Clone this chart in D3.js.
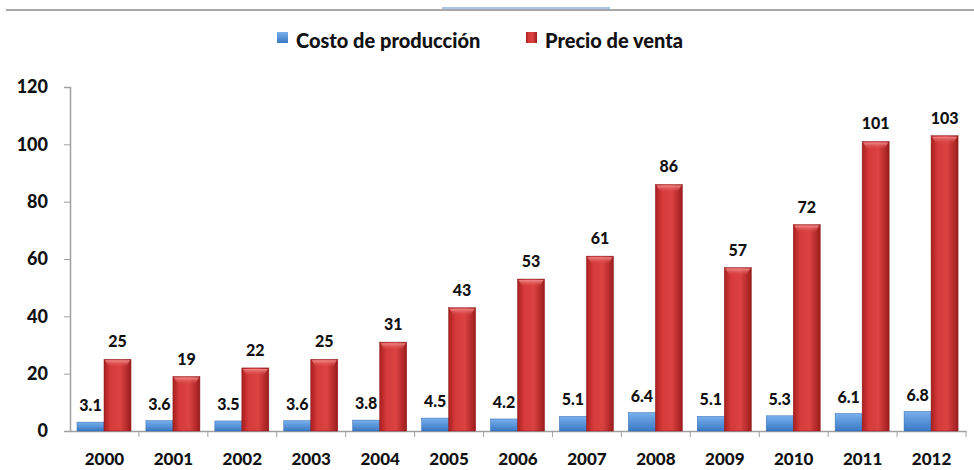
<!DOCTYPE html>
<html>
<head>
<meta charset="utf-8">
<script src="https://cdn.jsdelivr.net/npm/d3@7"></script>
<style>
  body { margin: 0; background: #fff; }
  svg text { font-family: Lato, "Open Sans", sans-serif; font-weight: 900; fill: #111; }
</style>
</head>
<body>
<svg id="chart" width="974" height="470"></svg>
<script>
// Costo de producción vs Precio de venta, 2000-2012
const years = ["2000", "2001", "2002", "2003", "2004", "2005", "2006", "2007", "2008", "2009", "2010", "2011", "2012"];
const costo = [3.1, 3.6, 3.5, 3.6, 3.8, 4.5, 4.2, 5.1, 6.4, 5.1, 5.3, 6.1, 6.8];
const precio = [25, 19, 22, 25, 31, 43, 53, 61, 86, 57, 72, 101, 103];
const seriesNames = ["Costo de producción", "Precio de venta"];
const yTicks = [0, 20, 40, 60, 80, 100, 120];

const svg = d3.select("#chart");
const plotLeft = 70, plotRight = 966, plotTop = 87, plotBottom = 431;

// gradients
const defs = svg.append("defs");
const gRed = defs.append("linearGradient").attr("id", "gRed").attr("x1", 0).attr("x2", 1).attr("y1", 0).attr("y2", 0);
gRed.append("stop").attr("offset", "0%").attr("stop-color", "#a91f1f");
gRed.append("stop").attr("offset", "25%").attr("stop-color", "#d63a3a");
gRed.append("stop").attr("offset", "60%").attr("stop-color", "#dc4242");
gRed.append("stop").attr("offset", "100%").attr("stop-color", "#9c1c1c");
const gBlue = defs.append("linearGradient").attr("id", "gBlue").attr("x1", 0).attr("x2", 0).attr("y1", 0).attr("y2", 1);
gBlue.append("stop").attr("offset", "0%").attr("stop-color", "#79b0ee");
gBlue.append("stop").attr("offset", "100%").attr("stop-color", "#3a78c4");
const gTop = defs.append("linearGradient").attr("id", "gTop").attr("x1", 0).attr("x2", 0).attr("y1", 0).attr("y2", 1);
gTop.append("stop").attr("offset", "0%").attr("stop-color", "#f08a8a");
gTop.append("stop").attr("offset", "100%").attr("stop-color", "#dc4242").attr("stop-opacity", 0);

// top rule
svg.append("rect").attr("x", 6).attr("y", 9).attr("width", 968).attr("height", 2).attr("fill", "#a8a8a8");
svg.append("rect").attr("x", 442).attr("y", 7).attr("width", 168).attr("height", 2).attr("fill", "#a9c6e4");

const x0 = d3.scaleBand().domain(years).range([plotLeft, plotRight]);
const x1 = d3.scaleBand().domain(seriesNames).range([7, 61]);
const y = d3.scaleLinear().domain([0, 120]).range([plotBottom, plotTop]);

// y axis
const yAxis = svg.append("g").attr("transform", `translate(${plotLeft},0)`)
  .call(d3.axisLeft(y).tickValues(yTicks).tickSize(6).tickPadding(16));
yAxis.select(".domain").attr("stroke", "#a0a0a0").attr("stroke-width", 1.5);
yAxis.selectAll(".tick line").attr("stroke", "#a0a0a0");
yAxis.selectAll("text").style("font-size", "18px").attr("fill", "#111");

// x axis
const xAxis = svg.append("g").attr("transform", `translate(0,${plotBottom})`)
  .call(d3.axisBottom(x0).tickSize(0).tickPadding(22));
xAxis.select(".domain").attr("stroke", "#a0a0a0").attr("stroke-width", 1.5);
xAxis.selectAll("text").style("font-size", "17px").attr("fill", "#111");
// separators between categories
svg.append("g").selectAll("line")
  .data(years)
  .join("line")
  .attr("x1", d => x0(d) + x0.bandwidth())
  .attr("x2", d => x0(d) + x0.bandwidth())
  .attr("y1", plotBottom).attr("y2", plotBottom + 6)
  .attr("stroke", "#a0a0a0");

const bw = x1.bandwidth();

// blue bars
svg.append("g").selectAll("rect")
  .data(costo)
  .join("rect")
  .attr("x", (d, i) => x0(years[i]) + x1(seriesNames[0]))
  .attr("y", d => y(d))
  .attr("width", bw)
  .attr("height", d => plotBottom - y(d))
  .attr("fill", "url(#gBlue)")
  .attr("stroke", "#2f67ad").attr("stroke-width", 0.5);

// red bars
const redG = svg.append("g");
redG.selectAll("rect.bar")
  .data(precio)
  .join("rect")
  .attr("class", "bar")
  .attr("x", (d, i) => x0(years[i]) + x1(seriesNames[1]))
  .attr("y", d => y(d))
  .attr("width", bw)
  .attr("height", d => plotBottom - y(d))
  .attr("fill", "url(#gRed)")
  .attr("stroke", "#8e1b1b").attr("stroke-width", 0.5);
// bevel highlight on top
redG.selectAll("path.bevel")
  .data(precio)
  .join("path")
  .attr("class", "bevel")
  .attr("d", (d, i) => {
    const bx = x0(years[i]) + x1(seriesNames[1]), by = y(d);
    return `M${bx + 1},${by + 1} L${bx + bw - 1},${by + 1} L${bx + bw - 5},${by + 8} L${bx + 5},${by + 8} Z`;
  })
  .attr("fill", "url(#gTop)");

// value labels
svg.append("g").selectAll("text")
  .data(costo)
  .join("text")
  .attr("x", (d, i) => x0(years[i]) + x1(seriesNames[0]) + bw / 2)
  .attr("y", d => y(d) - 11)
  .attr("text-anchor", "middle")
  .style("font-size", "16px")
  .text(d => d.toFixed(1));
svg.append("g").selectAll("text")
  .data(precio)
  .join("text")
  .attr("x", (d, i) => x0(years[i]) + x1(seriesNames[1]) + bw / 2)
  .attr("y", d => y(d) - 12)
  .attr("text-anchor", "middle")
  .style("font-size", "16px")
  .text(d => d);

// legend
const legend = svg.append("g");
const legendX = [277, 526];
const legendFill = ["url(#gBlue)", "url(#gRed)"];
seriesNames.forEach((name, i) => {
  legend.append("rect").attr("x", legendX[i]).attr("y", 32).attr("width", 11).attr("height", 11)
    .attr("fill", legendFill[i]);
  legend.append("text").attr("x", legendX[i] + 19).attr("y", 48)
    .style("font-size", "20px").text(name);
});
</script>
</body>
</html>
